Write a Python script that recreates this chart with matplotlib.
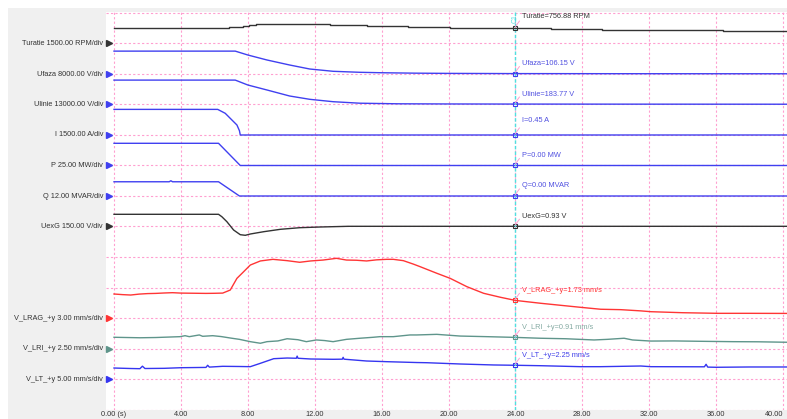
import matplotlib.pyplot as plt
from matplotlib.patches import Rectangle
from matplotlib.transforms import blended_transform_factory

plt.rcParams['font.family'] = ['Liberation Sans', 'DejaVu Sans']

# canale: nume, scala / diviziune, unitate, pozitia lui zero (diviziuni)
names = ['Turatie', 'Ufaza', 'Ulinie', 'I', 'P', 'Q', 'UexG',
         'V_LRAG_+y', 'V_LRI_+y', 'V_LT_+y']
scales = [1500.0, 8000.0, 13000.0, 1500.0, 25.0, 12.0, 150.0, 3.0, 2.5, 5.0]
units = ['RPM', 'V', 'V', 'A', 'MW', 'MVAR', 'V', 'mm/s', 'mm/s', 'mm/s']
zeros = [12, 11, 10, 9, 8, 7, 6, 3, 2, 1]
cursor_t = 24.0
cursor_vals = [756.88, 106.15, 183.77, 0.45, 0.00, 0.00, 0.93, 1.73, 0.91, 2.25]

# semnale (timp [s], valoare)
turatie_t = [0, 6.9, 7.7, 8.1, 8.5, 12.9, 15.1, 17.6, 20.1, 23.1, 26.1, 29.2, 32.6, 36.4, 40.3]
turatie_v = [750, 826, 880, 910, 944, 910, 861, 826, 777, 757, 713, 679, 649, 600, 600]

ufaza_t = [0, 7.25, 8.0, 9.15, 10.5, 11.7, 13.1, 14.7, 16.0, 18.0, 20.0, 24.0, 30.0, 40.3]
ufaza_v = [6000, 6000, 4984, 3672, 2361, 1311, 708, 446, 330, 220, 160, 106.15, 80, 60]

ulinie_t = [0, 7.25, 8.0, 9.15, 10.5, 11.7, 13.1, 14.7, 17.0, 20.0, 24.0, 30.0, 40.3]
ulinie_v = [10400, 10400, 8311, 6180, 3623, 2216, 1193, 550, 300, 230, 183.77, 150, 120]

i_t = [0, 6.2, 6.65, 7.05, 7.35, 7.5, 7.55, 40.3]
i_v = [1260, 1260, 1067, 738, 492, 211, 0.45, 0.45]

p_t = [0, 6.25, 7.55, 40.3]
p_v = [18.2, 18.2, 0.0, 0.0]

q_t = [0, 3.3, 3.4, 3.5, 6.25, 7.5, 40.3]
q_v = [5.6, 5.6, 6.0, 5.6, 5.6, 0.0, 0.0]

uexg_t = [0, 6.25, 6.45, 6.75, 7.15, 7.55, 7.85, 8.15, 8.95, 9.95, 11.1, 12.3, 14.0, 40.3]
uexg_v = [60, 60, 48, 23.6, -17.2, -40.3, -43.3, -36.9, -25.6, -13.8, -5.9, -2.5, 0.93, 0.93]

lrag_t = [0, 0.5, 1.0, 1.5, 2.0, 2.5, 3.0, 3.5, 4.0, 4.5, 5.0, 5.5, 6.0, 6.5, 6.95,
          7.35, 7.75, 8.15, 8.75, 9.5, 10.35, 11.1, 11.75, 12.5, 13.3, 13.9, 14.5,
          15.1, 15.7, 16.3, 16.7, 17.3, 17.9, 18.3, 19.3, 20.1, 21.1, 22.1, 23.1,
          24.0, 25.5, 27.9, 29.1, 30.3, 31.5, 32.1, 34.0, 36.1, 38.0, 40.3]
lrag_v = [2.36, 2.30, 2.26, 2.35, 2.40, 2.42, 2.46, 2.49, 2.45, 2.44, 2.43, 2.42, 2.43,
          2.45, 2.75, 3.90, 4.55, 5.21, 5.61, 5.77, 5.64, 5.48, 5.61, 5.70, 5.87, 5.70,
          5.68, 5.61, 5.72, 5.77, 5.77, 5.64, 5.30, 5.05, 4.40, 3.90, 3.08, 2.43, 2.04,
          1.73, 1.45, 1.05, 0.86, 0.82, 0.70, 0.62, 0.52, 0.46, 0.46, 0.45]

lri_t = [0, 1.55, 2.5, 3.95, 4.25, 4.5, 5.1, 5.3, 5.9, 6.4, 7.0, 7.5, 8.15, 8.75, 9.15,
         9.8, 10.35, 11.0, 11.5, 12.1, 12.6, 13.1, 13.9, 14.7, 15.5, 15.9, 16.7, 17.7,
         18.1, 19.3, 20.7, 22.3, 24.0, 25.5, 27.0, 28.7, 29.5, 30.5, 31.0, 32.1, 33.5,
         35.1, 37.0, 38.5, 40.3]
lri_v = [0.92, 0.88, 0.90, 0.97, 1.05, 0.97, 1.11, 1.00, 1.05, 0.98, 0.85, 0.75, 0.56,
         0.43, 0.56, 0.62, 0.80, 0.72, 0.56, 0.70, 0.65, 0.56, 0.75, 0.84, 0.92, 0.97,
         0.97, 1.11, 1.11, 1.16, 1.02, 0.97, 0.91, 0.84, 0.80, 0.70, 0.75, 0.84, 0.70,
         0.61, 0.62, 0.59, 0.56, 0.55, 0.51]

lt_t = [0, 1.0, 1.55, 1.7, 1.85, 3.0, 4.0, 5.5, 5.6, 5.7, 6.5, 7.5, 8.15, 8.75, 9.55,
        10.35, 10.9, 10.95, 11.0, 11.75, 13.1, 13.65, 13.7, 13.75, 15.1, 16.3, 18.1,
        18.7, 20.7, 22.7, 24.0, 25.5, 27.9, 29.1, 31.5, 32.1, 35.3, 35.4, 35.5, 36.0,
        38.0, 40.3]
lt_v = [1.80, 1.72, 1.69, 2.10, 1.72, 1.75, 1.85, 1.90, 2.25, 1.95, 2.08, 2.05, 2.02,
        2.57, 3.33, 3.44, 3.40, 3.75, 3.40, 3.28, 3.23, 3.25, 3.55, 3.25, 2.95, 2.84,
        2.70, 2.67, 2.46, 2.30, 2.25, 2.18, 2.02, 2.02, 2.13, 2.02, 2.00, 2.41, 1.95,
        1.92, 1.97, 1.97]

series = [(turatie_t, turatie_v), (ufaza_t, ufaza_v), (ulinie_t, ulinie_v), (i_t, i_v),
          (p_t, p_v), (q_t, q_v), (uexg_t, uexg_v), (lrag_t, lrag_v), (lri_t, lri_v),
          (lt_t, lt_v)]

BLK = '#333333'
BLU = '#4040f0'
RED = '#ff3535'
TEAL = '#5f958b'
CYAN = '#4fe0e0'
line_colors = [BLK, BLU, BLU, BLU, BLU, BLU, BLK, RED, TEAL, '#3535f0']
text_colors = [BLK, '#5050e0', '#5050e0', '#5050e0', '#5050e0', '#5050e0', BLK,
               RED, '#84aaa2', '#4040e8']
# pozitia etichetelor cursorului (diviziuni)
label_y = [12.87, 11.36, 10.34, 9.49, 8.34, 7.35, 6.34, 3.89, 2.69, 1.77]

W, H = 787, 419
fig = plt.figure(figsize=(W / 100, H / 100), dpi=100)
fig.patch.set_facecolor('white')
fig.patches.append(Rectangle((8 / W, 0), 1, 1 - 8 / H, transform=fig.transFigure,
                             facecolor='#f0f0f0', edgecolor='none', zorder=-10))

px_s = (783 - 114) / 40.0
px_div = (409.5 - 13) / 13.0
ax = fig.add_axes([106 / W, 9 / H, 681 / W, 398 / H])
ax.set_zorder(1)
ax.set_facecolor('white')
ax.set_xlim((106 - 114) / px_s, (787 - 114) / px_s)
ax.set_ylim(-0.5 / px_div, 13 + 1 / px_div)
for s in ax.spines.values():
    s.set_visible(False)

grid_kw = dict(color='#ff9fd0', lw=0.8, linestyle=(0, (2, 2)), zorder=1)
for t in range(0, 41, 4):
    ax.axvline(t, **grid_kw)
for d in range(0, 14):
    ax.axhline(d, **grid_kw)

ax.set_xticks(range(0, 41, 4))
ax.set_xticklabels(['0.00 (s)'] + ['%.2f' % t for t in range(4, 41, 4)])
ax.set_yticks([])
ax.tick_params(axis='x', length=0, pad=0.8, labelsize=5.3, colors=BLK)
ax.get_xticklabels()[-1].set_horizontalalignment('right')

for k in range(len(names)):
    t, v = series[k]
    y = [zeros[k] + a / scales[k] for a in v]
    if k == 0:
        ax.plot(t, y, color=line_colors[k], lw=1.0, drawstyle='steps-post', zorder=3)
    else:
        ax.plot(t, y, color=line_colors[k], lw=1.0, zorder=3)

# cursor
ax.axvline(cursor_t, color=CYAN, lw=1.0, linestyle=(0, (2.5, 1.5)), zorder=4)
for k in range(len(names)):
    yc = zeros[k] + cursor_vals[k] / scales[k]
    ax.plot([cursor_t], [yc], marker='s', ms=3, mfc='none', mec=line_colors[k],
            mew=0.8, zorder=5)
    ax.plot([cursor_t, cursor_t + 4 / px_s], [yc + 1.5 / px_div, yc + 7 / px_div],
            color='#ff9fd0', lw=0.7, zorder=5)
    ax.text(cursor_t + 7 / px_s, label_y[k],
            '%s=%.2f %s' % (names[k], cursor_vals[k], units[k]),
            fontsize=5.3, color=text_colors[k], va='center', ha='left', zorder=6)
ax.text(cursor_t, 13 - 1 / px_div, 'C1', rotation=90, fontsize=5, color=CYAN,
        ha='center', va='top', zorder=6)

# etichete canale in stanga
tr = blended_transform_factory(fig.transFigure, ax.transData)
for k in range(len(names)):
    ax.text(103 / W, zeros[k], '%s %.2f %s/div' % (names[k], scales[k], units[k]),
            transform=tr, fontsize=5.3, color=BLK, ha='right', va='center',
            clip_on=False)
    ax.plot([108.5 / W], [zeros[k]], transform=tr, marker='>', ms=4,
            color=line_colors[k], clip_on=False, zorder=6)

fig.savefig('out.png', dpi=100)
